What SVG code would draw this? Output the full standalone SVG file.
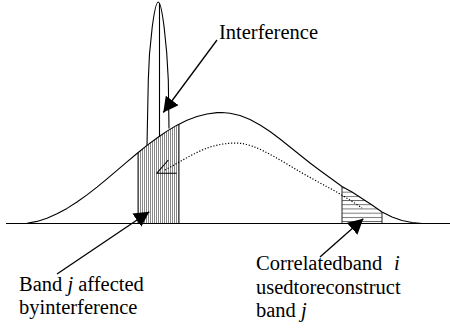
<svg xmlns="http://www.w3.org/2000/svg" width="450" height="331" viewBox="0 0 450 331">
<style>
.ln{fill:none;stroke:#000;stroke-width:1.1;stroke-linejoin:round}
.edge{fill:none;stroke:#222;stroke-width:1}
.dot{fill:none;stroke:#000;stroke-width:1.2;stroke-dasharray:1.2 1.8}
.con{fill:none;stroke:#000;stroke-width:1.3}
.lbl{font-family:"Liberation Serif","Times New Roman",serif;font-size:20.5px;fill:#000}
</style>
<defs>
<pattern id="vh" patternUnits="userSpaceOnUse" width="2" height="10"><rect x="0" y="0" width="0.9" height="10" fill="#7a7a7a"/></pattern>
<pattern id="hh" patternUnits="userSpaceOnUse" x="0" y="2.7" width="10" height="4.2"><rect x="0" y="0" width="10" height="0.9" fill="#666"/></pattern>
<marker id="ah" viewBox="0 0 15 16" markerWidth="15" markerHeight="16" refX="15" refY="8" orient="auto" markerUnits="userSpaceOnUse"><path d="M0,0 L15,8 L0,16 z" fill="#000"/></marker>
</defs>

<g id="band-j">
<polygon points="138,223.5 138,152.7 147,145.4 157,138 167,131.1 177,125.15 179,124.2 179,223.5" fill="url(#vh)"/>
<line class="edge" x1="138" y1="152.7" x2="138" y2="223.5"/>
<line class="edge" x1="179" y1="124.2" x2="179" y2="223.5"/>
</g>

<g id="band-i">
<polygon points="342,223.5 342,186.5 352,192 362,198.5 372,205 382,212 382,223.5" fill="url(#hh)"/>
<line class="edge" x1="342" y1="186.5" x2="342" y2="223.5"/>
<line class="edge" x1="382" y1="212" x2="382" y2="223.5"/>
</g>

<g id="baseline">
<line class="ln" x1="6" y1="223.5" x2="450" y2="223.5"/>
</g>

<g id="signal-curve">
<polyline class="ln" points="17,223.5 27,223.3 37,221.4 47,218.2 57,213.85 67,208.4 77,202.05 87,194.85 97,187.06 107,178.86 117,170.4 127,161.85 137,153.5 147,145.4 157,137.97 167,131.14 177,125.15 187,120.2 197,116.49 207,114 217,112.66 222,112.5 230,113.2 240,115.5 250,119.5 260,125 270,131.5 280,139 290,147 300,155 310,163 320,170.5 330,177.8 342,186.5 352,192 362,198.5 372,205 382,212 392,217 402,220.5 412,222.5 422,223.5"/>
</g>

<g id="interference-spike">
<path class="ln" d="M147,145.4 L148.3,80 C149,45 154.5,2 158.3,2 C162,2 167,45 168.3,80 L169,128.5"/>
<line class="ln" x1="159.5" y1="3" x2="159.5" y2="137"/>
</g>

<g id="reconstruction-path">
<path class="dot" d="M165,170 C180,162 195,152 210,147 C222,143.5 232,142.5 242,143.5 C255,145.5 270,154 287,164 C305,175 320,183 335,191 C345,197 355,203 362,208"/>
<polyline class="ln" points="168.3,160 156.7,173.3 176.7,173.3"/>
</g>

<g id="connectors">
<line class="con" x1="217" y1="40" x2="163.3" y2="112.5" marker-end="url(#ah)"/>
<line class="con" x1="57" y1="274" x2="149.3" y2="211.7" marker-end="url(#ah)"/>
<line class="con" x1="320" y1="257" x2="363.3" y2="218.8" marker-end="url(#ah)"/>
</g>

<g id="label-interference">
<text class="lbl" x="219" y="38.5">Interference</text>
</g>
<g id="label-band-j">
<text class="lbl" x="19" y="291">Band <tspan font-style="italic">j</tspan> affected</text>
<text class="lbl" x="19" y="313.5">byinterference</text>
</g>
<g id="label-band-i">
<text class="lbl" x="256" y="270">Correlatedband<tspan x="394" font-style="italic">i</tspan></text>
<text class="lbl" x="256" y="293.5">usedtoreconstruct</text>
<text class="lbl" x="256" y="317">band <tspan font-style="italic">j</tspan></text>
</g>
</svg>
